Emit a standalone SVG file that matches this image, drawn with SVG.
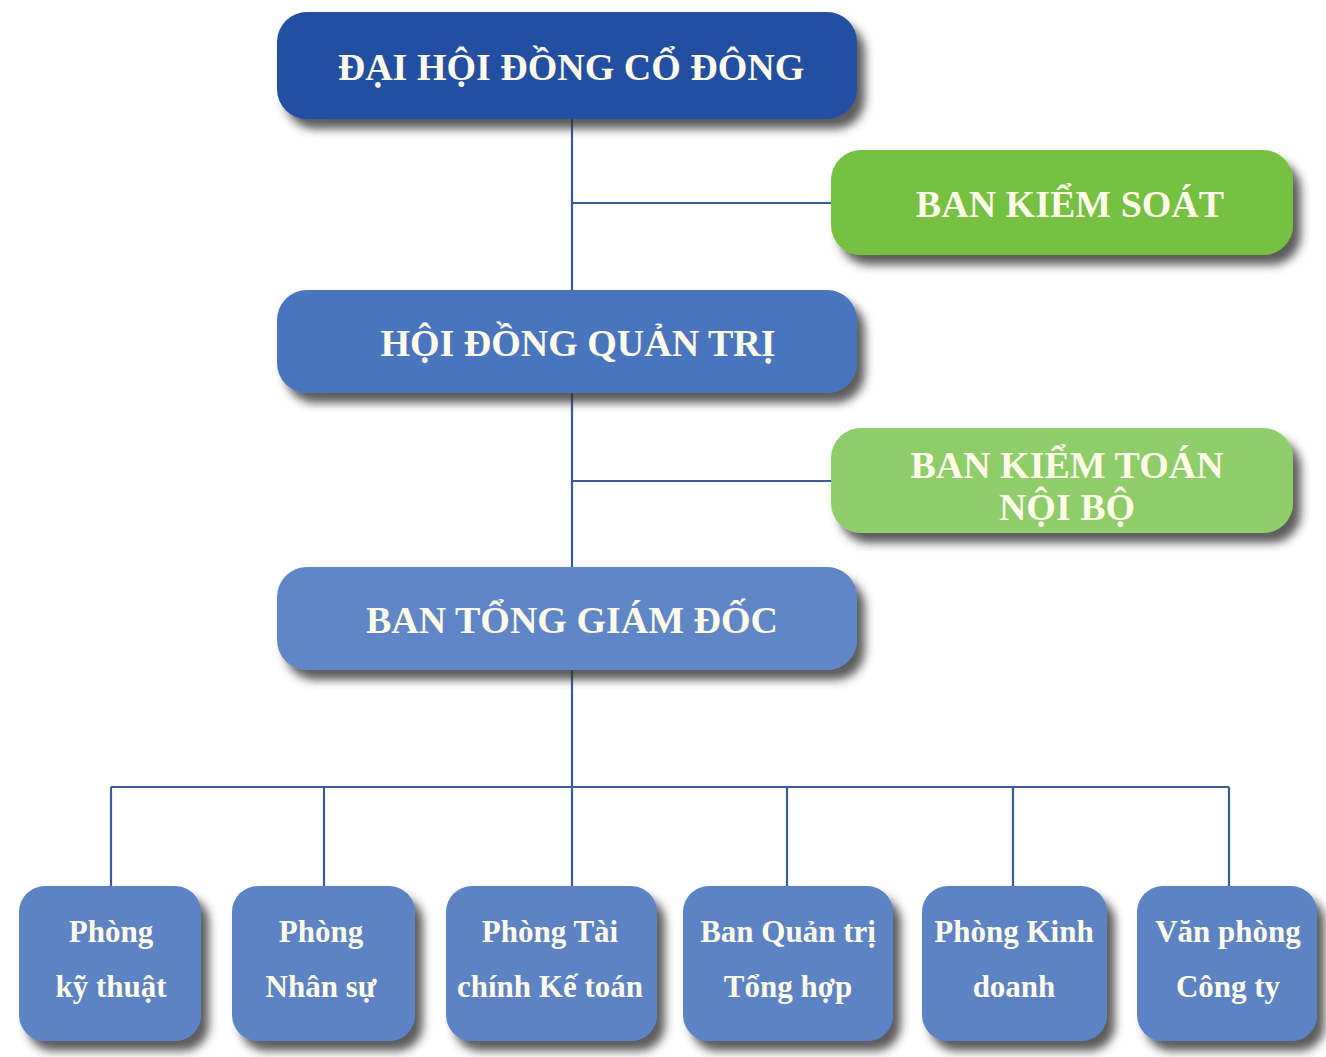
<svg xmlns="http://www.w3.org/2000/svg" width="1326" height="1057" viewBox="0 0 1326 1057">
<defs>
<filter id="sh" x="-10%" y="-15%" width="130%" height="150%">
<feGaussianBlur in="SourceAlpha" stdDeviation="5"/>
<feOffset dx="8" dy="10" result="b"/>
<feFlood flood-color="#333333" flood-opacity="0.8"/>
<feComposite in2="b" operator="in"/>
<feMerge><feMergeNode/><feMergeNode in="SourceGraphic"/></feMerge>
</filter>
</defs>
<style>
.t{font-family:"Liberation Serif","Times New Roman",serif;font-weight:bold;fill:#fffbe8;text-anchor:middle}
.big{font-size:38px}
.sm{font-size:31px}
.ln{stroke:#3a5b9c;stroke-width:2.2;fill:none}
</style>
<rect width="1326" height="1057" fill="#ffffff"/>
<g id="connectors">
<path class="ln" d="M572 118V292M572 203H833M572 390V570M572 481H833M572 668V787M111 787H1229M111 787V889M324 787V889M572 787V889M787 787V889M1013 787V889M1229 787V889"/>
</g>
<g id="dhdcd">
<rect x="277" y="12" width="580" height="107" rx="30" fill="#2050a2" filter="url(#sh)"/>
<text class="t big" x="571" y="80">ĐẠI HỘI ĐỒNG CỔ ĐÔNG</text>
</g>
<g id="bks">
<rect x="831" y="150" width="462" height="105" rx="30" fill="#76c043" filter="url(#sh)"/>
<text class="t big" x="1070" y="217">BAN KIỂM SOÁT</text>
</g>
<g id="hdqt">
<rect x="277" y="290" width="580" height="103" rx="30" fill="#4a74bf" filter="url(#sh)"/>
<text class="t big" x="578" y="356">HỘI ĐỒNG QUẢN TRỊ</text>
</g>
<g id="bktnb">
<rect x="831" y="428" width="462" height="105" rx="30" fill="#8ecd69" filter="url(#sh)"/>
<text class="t big" x="1067" y="478">BAN KIỂM TOÁN</text>
<text class="t big" x="1067" y="520">NỘI BỘ</text>
</g>
<g id="btgd">
<rect x="277" y="567" width="580" height="103" rx="30" fill="#5f87c7" filter="url(#sh)"/>
<text class="t big" x="572" y="633">BAN TỔNG GIÁM ĐỐC</text>
</g>
<g id="pkt">
<rect x="19" y="886" width="182" height="155" rx="26" fill="#5b84c4" filter="url(#sh)"/>
<text class="t sm" x="111" y="942">Phòng</text>
<text class="t sm" x="111" y="997">kỹ thuật</text>
</g>
<g id="pns">
<rect x="232" y="886" width="183" height="155" rx="26" fill="#5b84c4" filter="url(#sh)"/>
<text class="t sm" x="321" y="942">Phòng</text>
<text class="t sm" x="321" y="997">Nhân sự</text>
</g>
<g id="ptckt">
<rect x="446" y="886" width="211" height="155" rx="26" fill="#5b84c4" filter="url(#sh)"/>
<text class="t sm" x="550" y="942">Phòng Tài</text>
<text class="t sm" x="550" y="997">chính Kế toán</text>
</g>
<g id="bqtth">
<rect x="683" y="886" width="210" height="155" rx="26" fill="#5b84c4" filter="url(#sh)"/>
<text class="t sm" x="788" y="942">Ban Quản trị</text>
<text class="t sm" x="788" y="997">Tổng hợp</text>
</g>
<g id="pkd">
<rect x="922" y="886" width="185" height="155" rx="26" fill="#5b84c4" filter="url(#sh)"/>
<text class="t sm" x="1014" y="942">Phòng Kinh</text>
<text class="t sm" x="1014" y="997">doanh</text>
</g>
<g id="vpct">
<rect x="1137" y="886" width="180" height="155" rx="26" fill="#5b84c4" filter="url(#sh)"/>
<text class="t sm" x="1228" y="942">Văn phòng</text>
<text class="t sm" x="1228" y="997">Công ty</text>
</g>
</svg>
